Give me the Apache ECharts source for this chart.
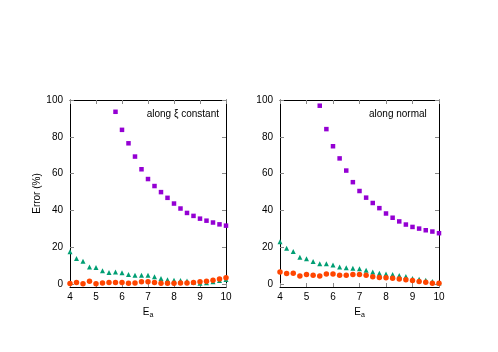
<!DOCTYPE html>
<html><head><meta charset="utf-8">
<script src="https://cdn.jsdelivr.net/npm/echarts@6/dist/echarts.min.js"></script>
<style>html,body{margin:0;padding:0;background:#fff}#c{width:498px;height:352px}</style>
</head><body><div id="c"></div>
<script>
var energies = [4.0,4.25,4.5,4.75,5.0,5.25,5.5,5.75,6.0,6.25,6.5,6.75,7.0,7.25,7.5,7.75,8.0,8.25,8.5,8.75,9.0,9.25,9.5,9.75,10.0];
var xiPurple = [null,null,null,null,null,null,null,93.6,83.8,76.5,69.3,62.4,57.1,53.3,50.0,46.9,43.8,41.1,38.7,37.1,35.6,34.5,33.5,32.5,31.8];
var xiGreen  = [17.6,14.0,12.5,9.3,9.1,7.3,6.4,6.6,6.2,5.3,4.9,4.9,4.9,4.0,3.1,2.5,2.2,2.0,1.8,1.1,0.5,0.8,1.4,2.0,2.6];
var xiOrange = [0.4,0.9,0.2,1.6,0.2,0.7,0.9,0.9,0.9,0.5,0.7,1.3,1.3,0.9,0.5,0.5,0.5,0.7,0.7,0.9,1.3,1.6,2.2,2.9,3.5];
var nPurple  = [null,null,null,null,null,null,96.9,84.2,74.9,68.3,61.7,55.4,50.6,47.0,44.1,41.3,38.4,36.1,34.1,32.4,31.1,30.2,29.3,28.6,27.7];
var nGreen   = [23.1,19.6,17.8,14.7,13.8,12.4,11.1,11.1,10.5,9.3,8.9,8.7,8.4,7.6,6.7,6.0,5.6,5.3,4.7,4.2,3.1,2.7,2.2,1.5,0.7];
var nOrange  = [6.7,5.8,6.0,4.5,5.3,4.9,4.5,5.6,5.5,4.9,4.9,5.3,5.3,4.9,4.0,3.6,3.5,3.3,2.9,2.5,2.0,1.5,1.1,0.5,0.5];
var yTicks = [0,20,40,60,80,100];
var xTicks = [4,5,6,7,8,9,10];
var panelTitles = ['along \u03be constant','along normal'];
var yName = 'Error (%)';

function pairs(vals){
  var out=[];
  for(var i=0;i<energies.length;i++){ if(vals[i]!==null) out.push([energies[i],vals[i]]); }
  return out;
}
var FONT = 'Liberation Sans, Arial, sans-serif';
var grids = [
  {left:70, top:100, width:156, height:187},
  {left:280, top:100, width:159, height:187}
];
var xAxes=[], yAxes=[];
for (var g=0; g<2; g++){
  ['bottom','top'].forEach(function(pos){
    xAxes.push({
      type:'value', gridIndex:g, position:pos, min:4, max:10, interval:1,
      axisLine:{show:true,onZero:false,lineStyle:{color:'#000',width:1}},
      axisTick:{show:true,inside:true,length:4,lineStyle:{color:'#888'}},
      axisLabel:{show:pos==='bottom',color:'#000',fontFamily:FONT,fontSize:10,margin:5},
      splitLine:{show:false},
      name: pos==='bottom' ? '{e|E}{s|a}' : '',
      nameLocation:'middle', nameGap:17,
      nameTextStyle:{rich:{e:{fontFamily:FONT,fontSize:10,color:'#000'},s:{fontFamily:FONT,fontSize:7,color:'#000',padding:[7,0,0,0]}}}
    });
  });
  ['left','right'].forEach(function(pos){
    yAxes.push({
      type:'value', gridIndex:g, position:pos, min:-1.5, max:100,
      axisLine:{show:true,onZero:false,lineStyle:{color:'#000',width:1}},
      axisTick:{show:true,inside:true,length:4,lineStyle:{color:'#888'},customValues:yTicks},
      axisLabel:{show:pos==='left',color:'#000',fontFamily:FONT,fontSize:10,margin:7,customValues:yTicks},
      splitLine:{show:false},
      name: (pos==='left' && g===0) ? yName : '',
      nameLocation:'middle', nameGap:25,
      nameTextStyle:{fontFamily:FONT,fontSize:10,color:'#000'}
    });
  });
}
function sc(g,vals,sym,size,color){
  return {type:'scatter', xAxisIndex:g*2, yAxisIndex:g*2, data:pairs(vals), symbol:sym, symbolSize:size,
    itemStyle:{color:color,opacity:1}, silent:true, animation:false, clip:true};
}
var series = [
  sc(0,xiPurple,'rect',4.5,'#9400d3'),
  sc(0,xiGreen,'triangle',5,'#009e73'),
  sc(0,xiOrange,'circle',5.5,'#ff4500'),
  sc(1,nPurple,'rect',4.5,'#9400d3'),
  sc(1,nGreen,'triangle',5,'#009e73'),
  sc(1,nOrange,'circle',5.5,'#ff4500')
];
var chart = echarts.init(document.getElementById('c'),null,{renderer:'canvas'});
chart.setOption({
  animation:false,
  grid:grids, xAxis:xAxes, yAxis:yAxes, series:series,
  graphic:[
    {type:'text', right:498-219, top:109, style:{text:panelTitles[0],font:'10px '+FONT,fill:'#000',textAlign:'right'}},
    {type:'text', left:369, top:109, style:{text:panelTitles[1],font:'10px '+FONT,fill:'#000'}}
  ]
});
</script></body></html>
